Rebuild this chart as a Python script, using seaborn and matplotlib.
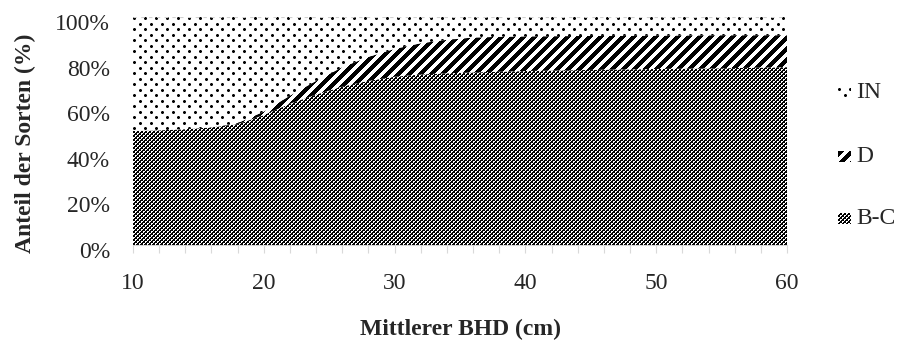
import numpy as np
import pandas as pd
import matplotlib
matplotlib.use("Agg")
import matplotlib.pyplot as plt
import seaborn as sns
from matplotlib.transforms import ScaledTranslation

# Mean diameter at breast height (cm)
bhd = [10, 12, 14, 16, 18, 20, 22, 24, 26, 28, 30, 32, 34, 36, 38, 40, 45, 50, 55, 60]
# Share of each cultivar group (%)
share_bc = [50.0, 50.3, 50.8, 51.6, 53.0, 57.0, 62.0, 66.0, 69.5, 72.0, 73.8, 74.8,
            75.3, 75.7, 76.0, 76.3, 76.8, 77.2, 77.5, 78.0]
share_d = [0.0, 0.0, 0.0, 0.0, 0.5, 1.5, 3.5, 6.0, 8.5, 10.5, 12.2, 13.7,
           14.7, 15.3, 15.3, 15.2, 14.9, 14.6, 14.5, 14.0]
share_in = [50.0, 49.7, 49.2, 48.4, 46.5, 41.5, 34.5, 28.0, 22.0, 17.5, 14.0, 11.5,
            10.0, 9.0, 8.7, 8.5, 8.3, 8.2, 8.0, 8.0]
groups = ["B-C", "D", "IN"]

x_ticks = list(range(10, 61, 2))
x_ticklabels = [str(v) if v % 10 == 0 else "" for v in x_ticks]
y_ticks = [0, 20, 40, 60, 80, 100]
y_ticklabels = [f"{v}%" for v in y_ticks]

df = pd.DataFrame({"BHD": bhd, "B-C": share_bc, "D": share_d, "IN": share_in})

sns.set_theme(style="white")
plt.rcParams["font.family"] = ["Liberation Serif", "DejaVu Serif"]

W_PX, H_PX, DPI = 899, 342, 100
fig = plt.figure(figsize=(W_PX / DPI, H_PX / DPI), dpi=DPI)
ax = fig.add_axes([133 / W_PX, 1 - 245 / H_PX, 654 / W_PX, 228 / H_PX])


# ---- black & white fill patterns (1 = white, 0 = black) ----
def pattern(name, h, w):
    r, c = np.mgrid[0:h, 0:w]
    img = np.ones((h, w))
    if name == "IN":
        # sparse staggered dots
        for dr, dc in [(0, 0), (5, 5)]:
            rr = (r + dr) % 11
            cc = (c + dc) % 11
            box = (rr < 3) & (cc < 3)
            corner = box & ((rr != 1) & (cc != 1))
            img[box] = 0
            img[corner] = 0.45
    elif name == "D":
        # wide upward diagonal stripes
        img[(c + r) % 11 < 6] = 0
    else:
        # dense dark checker with small white openings
        rr = r % 4
        cc = c % 4
        white = (((rr == 0) & (cc == 0)) | ((rr == 0) & (cc == 1)) | ((rr == 1) & (cc == 0)) |
                 ((rr == 2) & (cc == 2)) | ((rr == 2) & (cc == 3)) | ((rr == 3) & (cc == 2)))
        img[:] = 0
        img[white] = 1
    return img


bbox = ax.get_window_extent()
aw, ah = int(round(bbox.width)), int(round(bbox.height))

polys = ax.stackplot(df["BHD"], df["B-C"], df["D"], df["IN"],
                     colors=["none"] * 3, linewidth=0, zorder=1)

for name, poly in zip(groups, polys):
    im = ax.imshow(pattern(name, ah, aw), cmap="gray", vmin=0, vmax=1,
                   interpolation="nearest", extent=(10, 60, 0, 100),
                   aspect="auto", zorder=2)
    im.set_clip_path(poly.get_paths()[0], transform=ax.transData)

ax.set_xlim(10, 60)
ax.set_ylim(0, 100)

# dashed gridline at the top
ax.axhline(100, color="#d0d0d0", lw=0.8, ls=(0, (3, 4)), zorder=3)

sns.despine(ax=ax, left=True, top=True, right=True)
ax.spines["bottom"].set_color("#d9d9d9")
ax.spines["bottom"].set_linewidth(0.8)

ax.set_xticks(x_ticks)
ax.set_xticklabels(x_ticklabels)
ax.set_yticks(y_ticks)
ax.set_yticklabels(y_ticklabels)
ax.tick_params(axis="x", length=5.8, width=0.8, color="#d9d9d9", pad=14.4,
               labelsize=17, labelcolor="#262626", bottom=True)
ax.tick_params(axis="y", length=0, pad=16.5, labelsize=17, labelcolor="#262626")
for lab in ax.get_yticklabels():
    lab.set_transform(lab.get_transform() + ScaledTranslation(0, -5 / DPI, fig.dpi_scale_trans))
ax.set_xlabel("")
ax.set_ylabel("")

fig.text(460 / W_PX, 1 - 329 / H_PX, "Mittlerer BHD (cm)", ha="center", va="center",
         fontsize=17, fontweight="bold", color="#262626")
fig.text(25 / W_PX, 1 - 143 / H_PX, "Anteil der Sorten (%)", ha="center", va="center",
         rotation=90, fontsize=17, fontweight="bold", color="#262626")

# legend: pattern swatch + label
legend_rows = [("IN", 93), ("D", 156), ("B-C", 218)]
for name, yc in legend_rows:
    sw = pattern(name, 11, 13)
    fig.figimage(sw, xo=838, yo=H_PX - yc - 6, cmap="gray", vmin=0, vmax=1,
                 origin="upper", zorder=5)
    fig.text(856 / W_PX, 1 - yc / H_PX, name, ha="left", va="center",
             fontsize=17, color="#262626")

fig.savefig("out.png", dpi=DPI)
